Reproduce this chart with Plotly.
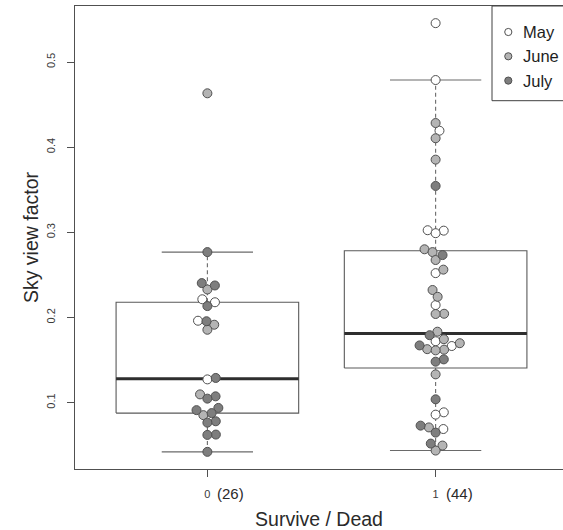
import math
import plotly.graph_objects as go

# ---------------------------------------------------------------------------
# Data: sky view factor per site, split by outcome (0 = survive, 1 = dead),
# with the survey month of each observation.
# ---------------------------------------------------------------------------
group_codes = ["0", "1"]
months = ["May", "June", "July"]
month_fill = {"May": "#ffffff", "June": "#b4b4b4", "July": "#7e7e7e"}

svf_survive = [0.4633, 0.2768, 0.2404, 0.2376, 0.2329, 0.2214, 0.2179, 0.2134,
               0.1962, 0.1956, 0.1915, 0.1856, 0.1290, 0.1273, 0.1097, 0.1074,
               0.1047, 0.0938, 0.0912, 0.0877, 0.0853, 0.0781, 0.0765, 0.0625,
               0.0621, 0.0422]
month_survive = ["June", "July", "July", "July", "June", "May", "May", "July",
                 "May", "July", "June", "June", "July", "May", "June", "July",
                 "July", "July", "July", "July", "June", "July", "July", "July",
                 "July", "July"]

svf_dead = [0.5457, 0.4789, 0.4284, 0.4194, 0.4105, 0.3854, 0.3545, 0.3025,
            0.3020, 0.2990, 0.2801, 0.2768, 0.2733, 0.2675, 0.2562, 0.2521,
            0.2323, 0.2243, 0.2146, 0.2044, 0.2041, 0.1833, 0.1792, 0.1745,
            0.1721, 0.1698, 0.1672, 0.1665, 0.1628, 0.1622, 0.1614, 0.1508,
            0.1481, 0.1332, 0.1039, 0.0886, 0.0859, 0.0730, 0.0709, 0.0690,
            0.0648, 0.0519, 0.0496, 0.0437]
month_dead = ["May", "May", "June", "May", "June", "June", "July", "May",
              "May", "May", "June", "June", "July", "June", "June", "May",
              "June", "June", "May", "June", "June", "June", "July", "June",
              "May", "June", "July", "May", "June", "June", "June", "July",
              "July", "June", "July", "May", "May", "July", "June", "May",
              "July", "July", "June", "June"]

y_ticks = [0.1, 0.2, 0.3, 0.4, 0.5]
x_title = "Survive / Dead"
y_title = "Sky view factor"

groups = [(svf_survive, month_survive), (svf_dead, month_dead)]

# ---------------------------------------------------------------------------
# Page geometry
# ---------------------------------------------------------------------------
W, H = 563, 530
ML, MR, MT, MB = 75, 0, 6, 61
plot_w = W - ML - MR
plot_h = H - MT - MB
FULL_W = 493          # full plotting region; its right edge runs off the page
PT = 8.5              # swarm point spacing in pixels
FONT = "Liberation Sans, Arial, Helvetica, sans-serif"

# axis ranges padded by 4% like a classic base-graphics plot
all_vals = svf_survive + svf_dead
lo, hi = min(all_vals), max(all_vals)
pad = 0.04 * (hi - lo)
y_range = [lo - pad, hi + pad]
x_full = [0.5 - 0.04 * 2, 2.5 + 0.04 * 2]
x_px_per_unit = FULL_W / (x_full[1] - x_full[0])
x_range = [x_full[0], x_full[0] + plot_w / x_px_per_unit]
y_px_per_unit = plot_h / (y_range[1] - y_range[0])


def fivenum(v):
    s = sorted(v)
    n = len(s)
    n4 = math.floor((n + 3) / 2) / 2
    idx = [1, n4, (n + 1) / 2, n + 1 - n4, n]
    return [0.5 * (s[math.floor(d) - 1] + s[math.ceil(d) - 1]) for d in idx]


def box_stats(v):
    mn, q1, med, q3, mx = fivenum(v)
    iqr = q3 - q1
    upper = max(x for x in v if x <= q3 + 1.5 * iqr)
    lower = min(x for x in v if x >= q1 - 1.5 * iqr)
    return lower, q1, med, q3, upper


def swarm(values, spacing_val, spacing_grp):
    """Beeswarm layout: place points in ascending order as close to the
    centre line as possible without overlap."""
    xs = [v / spacing_val for v in values]
    order = sorted(range(len(xs)), key=lambda i: xs[i])
    placed = []
    offs = [0.0] * len(xs)
    for i in order:
        xi = xs[i]
        pre = [(px, py) for px, py in placed if abs(xi - px) < 1]
        if not pre:
            yi = 0.0
        else:
            pre.sort(key=lambda p: abs(p[1]))
            pos = [py + math.sqrt(1 - (xi - px) ** 2) for px, py in pre]
            neg = [py - math.sqrt(1 - (xi - px) ** 2) for px, py in pre]
            cands = [0.0] + pos + neg
            best = None
            for c in cands:
                bad = any((xi - px) ** 2 + (c - py) ** 2 < 0.999 for px, py in pre)
                if not bad and (best is None or abs(c) < abs(best)):
                    best = c
            yi = best
        placed.append((xi, yi))
        offs[i] = yi * spacing_grp
    return offs


fig = go.Figure()

# --- boxes, whiskers, staples and medians ----------------------------------
bx, by, wx, wy, sx, sy, mx_, my_ = [], [], [], [], [], [], [], []
for gi, (vals, _) in enumerate(groups):
    p = gi + 1
    lower, q1, med, q3, upper = box_stats(vals)
    bx += [p - 0.4, p + 0.4, p + 0.4, p - 0.4, p - 0.4, None]
    by += [q1, q1, q3, q3, q1, None]
    wx += [p, p, None, p, p, None]
    wy += [q3, upper, None, q1, lower, None]
    sx += [p - 0.2, p + 0.2, None, p - 0.2, p + 0.2, None]
    sy += [upper, upper, None, lower, lower, None]
    mx_ += [p - 0.4, p + 0.4, None]
    my_ += [med, med, None]

fig.add_trace(go.Scatter(x=wx, y=wy, mode="lines", hoverinfo="skip", showlegend=False,
                         line=dict(color="#6a6a6a", width=1.1, dash="4px,3px")))
fig.add_trace(go.Scatter(x=sx, y=sy, mode="lines", hoverinfo="skip", showlegend=False,
                         line=dict(color="#6a6a6a", width=1.1)))
fig.add_trace(go.Scatter(x=bx, y=by, mode="lines", hoverinfo="skip", showlegend=False,
                         line=dict(color="#5a5a5a", width=1.1)))
fig.add_trace(go.Scatter(x=mx_, y=my_, mode="lines", hoverinfo="skip", showlegend=False,
                         line=dict(color="#2e2e2e", width=3)))

# --- swarm points, one trace per month ---------------------------------------
point_x = {m: [] for m in months}
point_y = {m: [] for m in months}
for gi, (vals, mons) in enumerate(groups):
    offs = swarm(vals, PT / y_px_per_unit, PT / x_px_per_unit)
    for v, m, o in zip(vals, mons, offs):
        point_x[m].append(gi + 1 + o)
        point_y[m].append(v)

for m in months:
    fig.add_trace(go.Scatter(
        x=point_x[m], y=point_y[m], mode="markers", name=m, showlegend=False,
        marker=dict(size=9, color=month_fill[m],
                    line=dict(color="#505050", width=1)),
    ))


# --- legend box in the top-right corner -------------------------------------
def px_x(px):
    return (px - ML) / plot_w


def px_y(py):
    return (MT + plot_h - py) / plot_h


shapes = [dict(type="rect", xref="paper", yref="paper",
               x0=px_x(492), x1=px_x(ML + FULL_W + 2), y0=px_y(100.7), y1=1,
               line=dict(color="#404040", width=1), fillcolor="white", layer="above")]
annotations = []
for k, m in enumerate(months):
    ry = px_y(32 + 24.3 * k)
    shapes.append(dict(type="circle", xref="paper", yref="paper",
                       xsizemode="pixel", ysizemode="pixel",
                       xanchor=px_x(508.3), yanchor=ry,
                       x0=-3.6, x1=3.6, y0=-3.6, y1=3.6,
                       fillcolor=month_fill[m], line=dict(color="#505050", width=1),
                       layer="above"))
    annotations.append(dict(xref="paper", yref="paper", x=px_x(521), y=ry,
                            xanchor="left", yanchor="middle", showarrow=False,
                            text=m, font=dict(family=FONT, size=16.5, color="#1e1e1e")))

# sample sizes next to the group codes on the x axis
for gi, (vals, _) in enumerate(groups):
    annotations.append(dict(xref="x", yref="paper", x=gi + 1, y=px_y(493),
                            xanchor="left", yanchor="middle", xshift=8, showarrow=False,
                            text=f"({len(vals)})",
                            font=dict(family=FONT, size=15, color="#2a2a2a")))

fig.update_layout(
    width=W, height=H,
    margin=dict(l=ML, r=MR, t=MT, b=MB, pad=0),
    paper_bgcolor="white", plot_bgcolor="white",
    font=dict(family=FONT, color="#333333"),
    showlegend=False,
    shapes=shapes, annotations=annotations,
    xaxis=dict(
        range=x_range, tickmode="array", tickvals=[1, 2], ticktext=group_codes,
        ticks="outside", ticklen=7, tickcolor="#505050", tickwidth=1,
        tickfont=dict(family=FONT, size=11, color="#3a3a3a"),
        ticklabelstandoff=8,
        showline=True, linecolor="#505050", linewidth=1, mirror=True,
        showgrid=False, zeroline=False,
        title=dict(text=x_title, font=dict(family=FONT, size=19.5, color="#2a2a2a"),
                   standoff=17),
    ),
    yaxis=dict(
        range=y_range, tickmode="array", tickvals=y_ticks,
        ticktext=[f"{t:.1f}" for t in y_ticks],
        ticks="outside", ticklen=7, tickcolor="#505050", tickwidth=1,
        tickangle=-90, tickfont=dict(family=FONT, size=11, color="#3a3a3a"),
        ticklabelstandoff=8,
        showline=True, linecolor="#505050", linewidth=1, mirror=False,
        showgrid=False, zeroline=False,
        title=dict(text=y_title, font=dict(family=FONT, size=19.5, color="#2a2a2a"),
                   standoff=0),
    ),
)

fig.write_html("out.html")
